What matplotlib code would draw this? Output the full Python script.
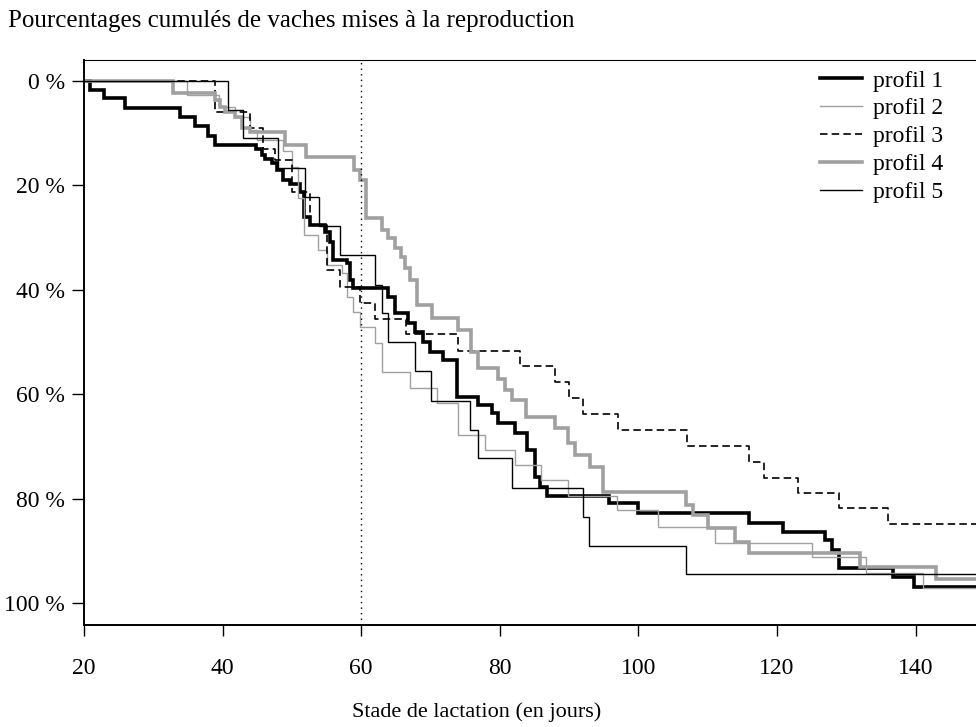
import matplotlib
matplotlib.use("Agg")
import matplotlib.pyplot as plt
import numpy as np

plt.rcParams['font.family'] = ['Liberation Serif', 'DejaVu Serif']

# ---- data (day of step, cumulative % after the step) ----
days1 = [20, 20.9, 22.9, 25.9, 33.8, 36.0, 37.9, 38.9, 44.8, 45.7, 46.1, 47.1, 47.8, 48.7, 49.7,
         51.1, 51.7, 52.6, 54.8, 55.5, 55.9, 57.9, 58.4, 58.8, 63.8, 64.8, 66.7, 67.7, 68.9, 69.9,
         71.8, 73.8, 76.8, 78.8, 79.7, 82.2, 83.9, 85.0, 85.8, 86.8, 95.8, 99.9, 115.9, 120.8,
         126.9, 127.9, 128.9, 136.7, 139.8]
vals1 = [0, 1.7, 3.3, 5.2, 6.9, 8.6, 10.5, 12.3, 13.0, 14.2, 15.0, 15.7, 17.0, 19.0, 19.7,
         21.3, 26.0, 27.6, 29.0, 30.8, 34.3, 34.9, 38.1, 39.7, 41.4, 44.4, 46.4, 48.1, 50.0, 51.9,
         53.4, 60.5, 62.0, 63.6, 65.5, 67.4, 70.7, 75.9, 77.8, 79.5, 80.8, 82.8, 84.7, 86.4,
         87.9, 89.8, 93.3, 95.0, 96.9]

days2 = [20, 34.9, 39.5, 41.8, 43.9, 45.0, 48.7, 50.0, 50.9, 51.7, 53.8, 55.0, 57.2, 57.9, 58.8,
         59.8, 62.0, 63.0, 67.0, 70.9, 74.0, 77.8, 82.2, 86.0, 89.8, 96.9, 102.8, 111.0, 125.0,
         132.9, 141.0]
vals2 = [0, 2.7, 5.0, 7.0, 9.4, 11.3, 13.5, 16.5, 22.5, 29.5, 32.4, 35.2, 36.8, 41.4, 44.3,
         47.1, 50.2, 55.7, 58.8, 61.7, 67.8, 70.7, 73.6, 76.4, 79.5, 82.2, 85.4, 88.5, 91.2,
         94.3, 97.1]

days3 = [20, 38.9, 43.9, 45.8, 47.5, 50.0, 52.6, 55.0, 56.9, 59.8, 62.0, 66.4, 74.0, 82.9, 87.9,
         90.0, 92.0, 97.0, 107.0, 115.9, 118.1, 123.0, 129.0, 136.0]
vals3 = [0, 5.9, 9.0, 13.0, 15.1, 21.3, 27.6, 36.2, 39.5, 42.5, 45.6, 48.5, 51.7, 54.6, 57.7,
         60.7, 63.8, 66.9, 69.9, 73.0, 76.0, 78.9, 81.8, 84.9]

days4 = [20, 32.8, 38.9, 39.6, 40.3, 41.8, 42.8, 43.9, 49.0, 52.0, 59.0, 59.8, 60.7, 63.0, 63.8,
         64.8, 65.8, 66.3, 67.0, 68.0, 70.2, 74.0, 75.9, 76.8, 79.8, 80.8, 81.8, 83.8, 87.9, 89.8,
         90.8, 93.0, 94.9, 106.8, 107.8, 110.0, 113.9, 115.9, 131.9, 143.0]
vals4 = [0, 2.3, 3.6, 5.0, 6.0, 7.0, 9.0, 9.8, 12.3, 14.5, 17.0, 19.0, 26.2, 28.5, 30.1,
         32.0, 33.7, 35.8, 38.1, 42.9, 45.4, 47.7, 52.0, 55.0, 57.0, 59.2, 61.1, 64.4, 66.5, 69.3,
         71.6, 73.9, 78.7, 81.2, 83.1, 85.6, 88.3, 90.4, 93.1, 95.4]

days5 = [20, 40.8, 42.9, 48.0, 51.9, 53.9, 56.9, 62.0, 63.0, 63.8, 67.7, 70.0, 75.7, 76.8, 81.8,
         92.0, 92.9, 106.8]
vals5 = [0, 5.5, 10.9, 16.7, 22.2, 27.7, 33.3, 39.1, 44.4, 50.0, 55.6, 61.3, 66.9, 72.2, 78.0,
         83.5, 89.0, 94.5]

labels = ["profil 1", "profil 2", "profil 3", "profil 4", "profil 5"]
yticks = [0, 20, 40, 60, 80, 100]
ytick_labels = ["0 %", "20 %", "40 %", "60 %", "80 %", "100 %"]
xticks = [20, 40, 60, 80, 100, 120, 140]
x_min, x_max = 20, 148.7
ref_day = 60

# ---- figure ----
W, H = 976, 727
fig = plt.figure(figsize=(W / 100, H / 100), dpi=100)
ax = fig.add_axes([84 / W, 1 - 625 / H, (976 - 84) / W, (625 - 60) / H])

styles = [
    dict(color="black", lw=2.6, ls="-"),
    dict(color="#a0a0a0", lw=1.0, ls="-"),
    dict(color="black", lw=1.2, ls=(0, (4.5, 2.5))),
    dict(color="#a0a0a0", lw=2.6, ls="-"),
    dict(color="black", lw=1.0, ls="-"),
]
series = [(days1, vals1), (days2, vals2), (days3, vals3), (days4, vals4), (days5, vals5)]
for (d, v), st, lab in zip(series, styles, labels):
    dd = list(d) + [x_max + 2]
    vv = list(v) + [v[-1]]
    ax.step(dd, vv, where="post", label=lab, solid_joinstyle="miter", **st)

ax.axvline(ref_day, color="black", lw=1.0, ls=(0, (1, 3)))

ax.set_xlim(x_min, x_max)
ax.set_ylim(104.2, -4.0)

ax.set_yticks(yticks)
ax.set_yticklabels(ytick_labels)
ax.set_xticks(xticks)
ax.tick_params(axis="y", direction="out", length=8.5, width=1.0, pad=5, labelsize=17)
ax.tick_params(axis="x", direction="out", length=8, width=1.0, pad=16, labelsize=17)

ax.spines["right"].set_visible(False)
ax.spines["left"].set_linewidth(1.4)
ax.spines["bottom"].set_linewidth(1.4)
ax.spines["top"].set_linewidth(0.8)

ax.set_xlabel("Stade de lactation (en jours)", fontsize=16)
ax.xaxis.set_label_coords((477 - 84) / (976 - 84), -0.137)

fig.text(8 / W, 1 - 21 / H, "Pourcentages cumulés de vaches mises à la reproduction",
         fontsize=18, ha="left", va="center")

leg = ax.legend(loc="upper left", bbox_to_anchor=(820 / W, 1 - 70 / H),
                bbox_transform=fig.transFigure, frameon=False, fontsize=17,
                handlelength=1.78, handletextpad=0.47, labelspacing=0.27,
                borderpad=0, borderaxespad=0)

fig.savefig("out.png", dpi=100)
